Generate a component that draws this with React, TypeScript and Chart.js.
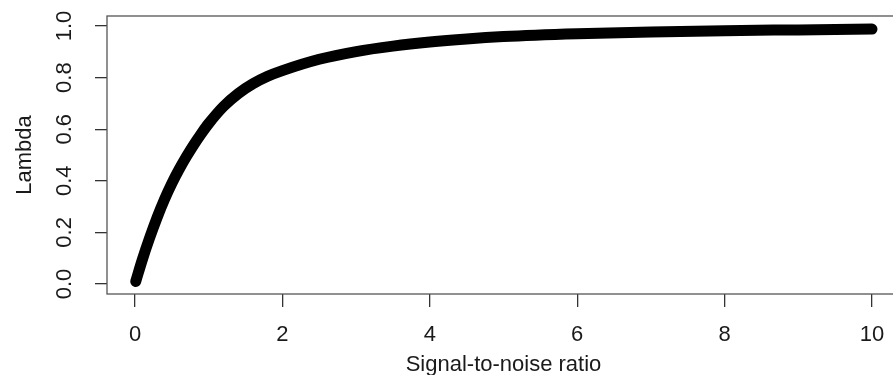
import React, { useEffect, useRef } from "react";
import { Chart, registerables } from "chart.js";

Chart.register(...registerables);

// Values
const snr = [0.01, 0.1, 0.2, 0.3, 0.4, 0.5, 0.6, 0.7, 0.8, 0.9, 1.0, 1.2, 1.4, 1.6, 1.8, 2.0, 2.5, 3.0, 3.5, 4.0, 4.5, 5.0, 6.0, 7.0, 8.0, 9.0, 10.0];
const lambda = [0.01, 0.095, 0.18, 0.258, 0.328, 0.39, 0.445, 0.495, 0.541, 0.583, 0.622, 0.688, 0.738, 0.776, 0.805, 0.827, 0.871, 0.901, 0.922, 0.938, 0.95, 0.959, 0.97, 0.977, 0.982, 0.985, 0.988];

const xTicks = [0, 2, 4, 6, 8, 10];
const yTicks = [0, 0.2, 0.4, 0.6, 0.8, 1.0];
const xTitle = "Signal-to-noise ratio";
const yTitle = "Lambda";

const FONT = "'Liberation Sans', Arial, Helvetica, sans-serif";
const TEXT = "#1a1a1a";
const AXIS = "#333333";
const FS = 22;

export default function App() {
  const ref = useRef<HTMLCanvasElement>(null);

  useEffect(() => {
    if (!ref.current) return;

    const boxPlugin = {
      id: "box",
      afterDraw(chart: any) {
        const { ctx, chartArea } = chart;
        const { left, top, right, bottom } = chartArea;
        ctx.save();
        ctx.strokeStyle = "#555555";
        ctx.lineWidth = 1.3;
        ctx.strokeRect(left, top, right - left, bottom - top);
        ctx.restore();
      },
    };

    const yLabelPlugin = {
      id: "ylabels",
      afterDraw(chart: any) {
        const { ctx } = chart;
        const s = chart.scales.y;
        ctx.save();
        ctx.fillStyle = TEXT;
        ctx.font = `${FS}px ${FONT}`;
        ctx.textAlign = "center";
        ctx.textBaseline = "alphabetic";
        for (const v of yTicks) {
          const py = s.getPixelForValue(v);
          ctx.save();
          ctx.translate(71, py);
          ctx.rotate(-Math.PI / 2);
          ctx.fillText(v.toFixed(1), 0, 0);
          ctx.restore();
        }
        ctx.restore();
      },
    };

    const chart = new Chart(ref.current, {
      type: "scatter",
      data: {
        datasets: [
          {
            data: snr.map((x, i) => ({ x, y: lambda[i] })),
            showLine: true,
            borderColor: "#000000",
            backgroundColor: "#000000",
            borderWidth: 11,
            borderCapStyle: "round",
            borderJoinStyle: "round",
            cubicInterpolationMode: "monotone",
            pointRadius: 0,
            pointHoverRadius: 0,
          } as any,
        ],
      },
      options: {
        animation: false,
        responsive: false,
        events: [],
        layout: { padding: { top: 16, right: 20, left: 0, bottom: 0 } },
        plugins: {
          legend: { display: false },
          tooltip: { enabled: false },
        },
        scales: {
          x: {
            type: "linear",
            min: -0.38,
            max: 10.38,
            afterBuildTicks: (s: any) => {
              s.ticks = xTicks.map((v) => ({ value: v }));
            },
            afterFit: (s: any) => {
              s.height = 81;
            },
            ticks: {
              autoSkip: false,
              maxRotation: 0,
              minRotation: 0,
              padding: 15,
              color: TEXT,
              font: { family: FONT, size: FS },
              callback: (v: any) => String(v),
            },
            grid: {
              drawOnChartArea: false,
              drawTicks: true,
              tickLength: 13,
              color: AXIS,
              lineWidth: 1.3,
            },
            border: { display: false },
            title: {
              display: true,
              text: xTitle,
              color: TEXT,
              font: { family: FONT, size: FS },
              padding: { top: 0, bottom: -3 },
            },
          },
          y: {
            type: "linear",
            min: -0.0388,
            max: 1.0388,
            afterBuildTicks: (s: any) => {
              s.ticks = yTicks.map((v) => ({ value: v }));
            },
            afterFit: (s: any) => {
              s.width = 107;
            },
            ticks: { display: false },
            grid: {
              drawOnChartArea: false,
              drawTicks: true,
              tickLength: 12,
              color: AXIS,
              lineWidth: 1.3,
            },
            border: { display: false },
            title: {
              display: true,
              text: yTitle,
              color: TEXT,
              font: { family: FONT, size: FS },
              padding: { top: 12, bottom: 0 },
            },
          },
        },
      } as any,
      plugins: [boxPlugin, yLabelPlugin],
    });

    return () => chart.destroy();
  }, []);

  return (
    <div
      style={{
        position: "fixed",
        left: 0,
        top: 0,
        width: 893,
        height: 375,
        overflow: "hidden",
        background: "#ffffff",
      }}
    >
      <canvas ref={ref} width={920} height={375} style={{ display: "block" }} />
    </div>
  );
}
